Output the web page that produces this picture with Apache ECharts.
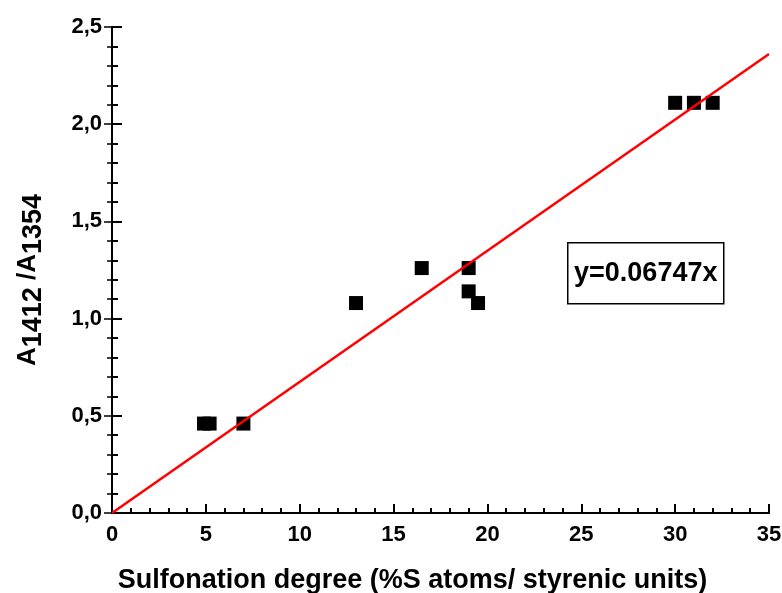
<!DOCTYPE html>
<html>
<head>
<meta charset="utf-8">
<script src="https://cdn.jsdelivr.net/npm/echarts@6/dist/echarts.min.js"></script>
<style>
  html, body { margin: 0; padding: 0; background: #fff; }
  #chart { width: 782px; height: 593px; }
</style>
</head>
<body>
<div id="chart"></div>
<script>
// Measured absorbance ratio vs. sulfonation degree
const sulfonation = [4.9, 5.2, 7.0, 13.0, 16.5, 19.0, 19.0, 19.5, 30.0, 31.0, 32.0];
const absRatio   = [0.46, 0.46, 0.46, 1.08, 1.26, 1.26, 1.14, 1.08, 2.11, 2.11, 2.11];

// Linear fit through the origin
const slope = 0.06747;
const fitX = [0, 35];

const xTicks = { min: 0, max: 35, interval: 5 };
const yTicks = { min: 0, max: 2.5, interval: 0.5 };

const FONT = '"Liberation Sans", Arial, sans-serif';

const points = sulfonation.map((x, i) => [x, absRatio[i]]);
const fitLine = fitX.map(x => [x, slope * x]);

const chart = echarts.init(document.getElementById('chart'), null, { renderer: 'canvas' });

const axisLine = { show: true, lineStyle: { color: '#000', width: 2 } };

chart.setOption({
  animation: false,
  backgroundColor: '#fff',
  grid: { left: 112, right: 13, top: 27, bottom: 80, containLabel: false, outerBoundsMode: 'none' },
  xAxis: [
    {
      type: 'value', min: xTicks.min, max: xTicks.max, interval: xTicks.interval,
      axisLine: axisLine,
      axisTick: { show: true, inside: true, length: 9, lineStyle: { color: '#000', width: 2 } },
      minorTick: { show: true, splitNumber: 5, length: 5, lineStyle: { color: '#000', width: 2 } },
      splitLine: { show: false },
      axisLabel: { color: '#000', fontFamily: FONT, fontWeight: 'bold', fontSize: 22, margin: 11 },
      name: 'Sulfonation degree (%S atoms/ styrenic units)',
      nameLocation: 'middle', nameGap: 54,
      nameTextStyle: { color: '#000', fontFamily: FONT, fontWeight: 'bold', fontSize: 27,
                       padding: [0, 56, 0, 0] }
    },
    {
      type: 'value', position: 'top', min: xTicks.min, max: xTicks.max, interval: xTicks.interval,
      axisLine: axisLine, axisTick: { show: false }, axisLabel: { show: false }, splitLine: { show: false }
    }
  ],
  yAxis: [
    {
      type: 'value', min: yTicks.min, max: yTicks.max, interval: yTicks.interval,
      axisLine: axisLine,
      axisTick: { show: true, inside: true, length: 10, lineStyle: { color: '#000', width: 2 } },
      minorTick: { show: true, splitNumber: 5, length: 6, lineStyle: { color: '#000', width: 2 } },
      splitLine: { show: false },
      axisLabel: {
        color: '#000', fontFamily: FONT, fontWeight: 'bold', fontSize: 22, margin: 10,
        formatter: v => v.toFixed(1).replace('.', ',')
      },
      name: '{a|A}{s|1412}{a| /A}{s|1354}',
      nameLocation: 'middle', nameRotate: 90, nameGap: 65,
      nameTextStyle: {
        color: '#000', fontFamily: FONT, fontWeight: 'bold', fontSize: 27,
        padding: [0, 20, 0, 0],
        rich: {
          a: { fontFamily: FONT, fontWeight: 'bold', fontSize: 26, color: '#000', padding: [0, 0, 6, 0] },
          s: { fontFamily: FONT, fontWeight: 'bold', fontSize: 27, color: '#000', padding: [6, 0, 0, 0] }
        }
      }
    },
    {
      type: 'value', position: 'right', min: yTicks.min, max: yTicks.max, interval: yTicks.interval,
      axisLine: axisLine,
      axisTick: { show: true, inside: true, length: 8, lineStyle: { color: '#000', width: 1.5 } },
      minorTick: { show: true, splitNumber: 5, length: 5, lineStyle: { color: '#000', width: 1.5 } },
      axisLabel: { show: false }, splitLine: { show: false }
    }
  ],
  series: [
    {
      type: 'scatter', data: points, symbol: 'rect', symbolSize: 14,
      itemStyle: { color: '#000', opacity: 1 }, z: 2
    },
    {
      type: 'line', data: fitLine, symbol: 'none', z: 3,
      lineStyle: { color: '#ff0000', width: 2.5 }
    }
  ],
  graphic: [
    {
      type: 'group', left: 567, top: 242,
      children: [
        { type: 'rect', shape: { x: 0, y: 0, width: 156, height: 61 },
          style: { fill: '#fff', stroke: '#000', lineWidth: 1.5 } },
        { type: 'text', x: 78, y: 31,
          style: { text: 'y=0.06747x', fill: '#000', font: 'bold 27px ' + FONT,
                   textAlign: 'center', textVerticalAlign: 'middle' } }
      ]
    }
  ]
});
</script>
</body>
</html>
